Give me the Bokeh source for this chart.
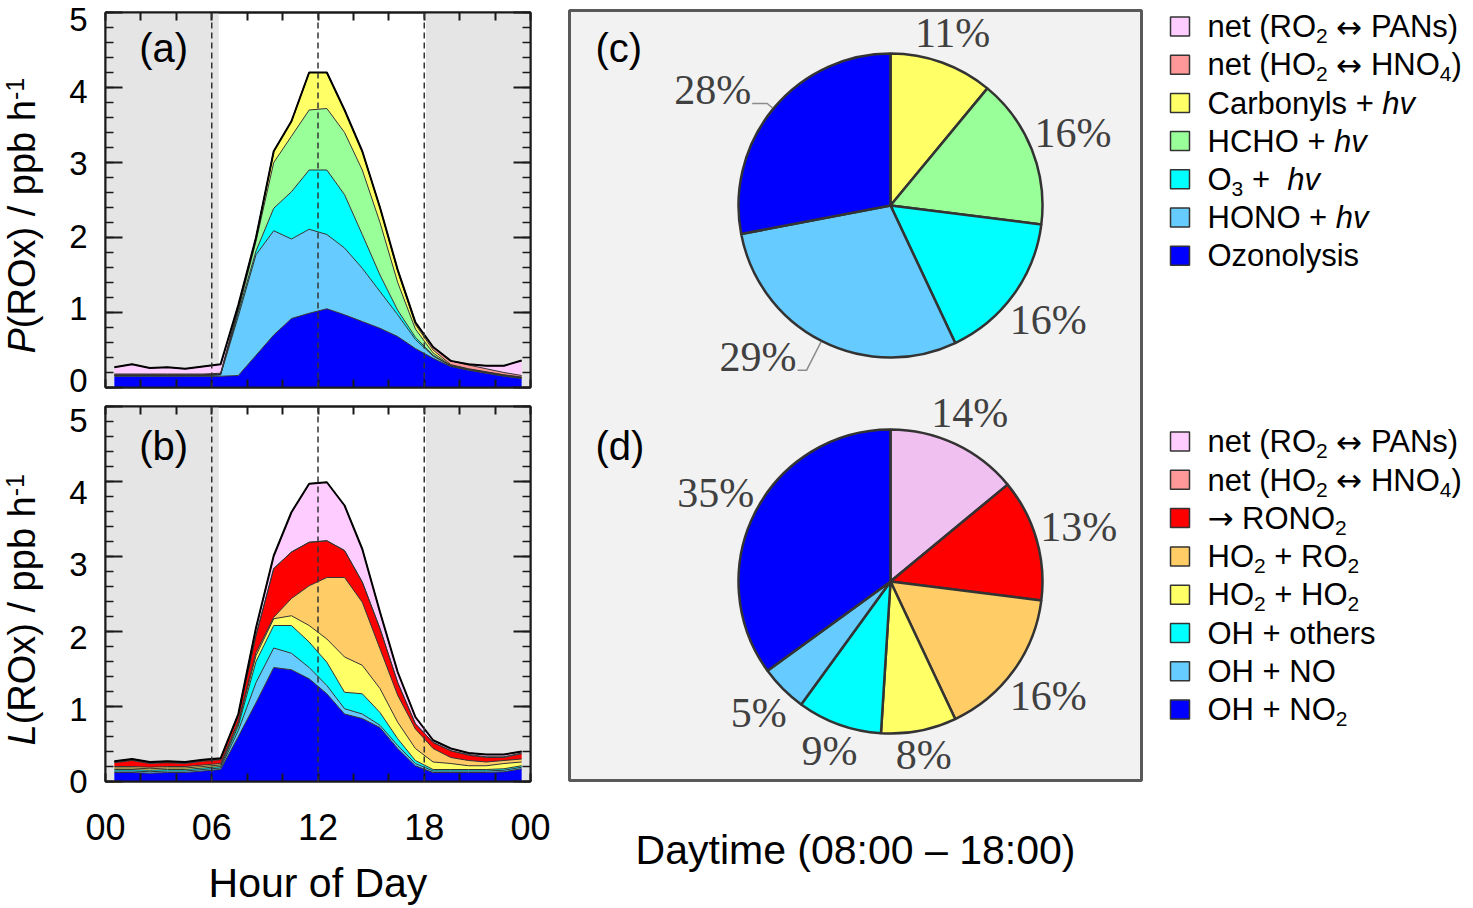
import numpy as np
from bokeh.plotting import figure
from bokeh.models import (Range1d, LinearAxis, FixedTicker, BoxAnnotation, Span,
                          Label, ColumnDataSource)
from bokeh.layouts import row, column
from bokeh.embed import file_html
from bokeh.resources import INLINE
from bokeh.core.properties import value

# ----------------------------------------------------------------- data
hours = [0.5, 1.5, 2.5, 3.5, 4.5, 5.5, 6.5, 7.5, 8.5, 9.5, 10.5, 11.5,
         12.5, 13.5, 14.5, 15.5, 16.5, 17.5, 18.5, 19.5, 20.5, 21.5, 22.5, 23.5]

# (a) P(ROx) contributions, ppb h-1 (stacked bottom -> top)
p_ozonolysis = [0.15, 0.15, 0.15, 0.15, 0.15, 0.15, 0.15, 0.16, 0.43, 0.70, 0.92, 0.99,
                1.05, 0.97, 0.88, 0.79, 0.68, 0.52, 0.39, 0.28, 0.23, 0.19, 0.15, 0.12]
p_hono = [0.01, 0.01, 0.01, 0.01, 0.01, 0.01, 0.02, 0.79, 1.34, 1.39, 1.06, 1.12,
          0.99, 0.89, 0.71, 0.49, 0.29, 0.12, 0.03, 0.01, 0.01, 0.01, 0.01, 0.01]
p_o3 = [0.00, 0.00, 0.00, 0.00, 0.00, 0.00, 0.00, 0.05, 0.05, 0.30, 0.63, 0.79,
        0.86, 0.71, 0.45, 0.22, 0.06, 0.03, 0.01, 0.00, 0.00, 0.00, 0.00, 0.00]
p_hcho = [0.005, 0.005, 0.005, 0.005, 0.005, 0.005, 0.005, 0.03, 0.13, 0.61, 0.74, 0.80,
          0.82, 0.83, 0.86, 0.70, 0.37, 0.11, 0.03, 0.005, 0.005, 0.005, 0.005, 0.005]
p_carbonyls = [0.005, 0.005, 0.005, 0.005, 0.005, 0.005, 0.005, 0.03, 0.05, 0.15, 0.20, 0.50,
               0.48, 0.30, 0.25, 0.20, 0.15, 0.06, 0.04, 0.01, 0.005, 0.005, 0.005, 0.005]
p_ho2_hno4 = [0.01, 0.01, 0.01, 0.01, 0.01, 0.01, 0.01, 0.00, 0.00, 0.00, 0.00, 0.00,
              0.00, 0.00, 0.00, 0.00, 0.02, 0.03, 0.04, 0.05, 0.05, 0.04, 0.03, 0.02]
p_ro2_pans = [0.09, 0.13, 0.08, 0.09, 0.07, 0.10, 0.12, 0.04, 0.00, 0.00, 0.00, 0.00,
              0.00, 0.00, 0.00, 0.00, 0.00, 0.00, 0.00, 0.00, 0.01, 0.04, 0.09, 0.20]

# (b) L(ROx) contributions, ppb h-1 (stacked bottom -> top)
l_oh_no2 = [0.12, 0.12, 0.11, 0.12, 0.12, 0.14, 0.16, 0.60, 1.05, 1.52, 1.49, 1.37,
            1.17, 0.90, 0.84, 0.72, 0.44, 0.21, 0.12, 0.12, 0.12, 0.12, 0.13, 0.17]
l_oh_no = [0.02, 0.02, 0.02, 0.02, 0.02, 0.02, 0.02, 0.08, 0.27, 0.26, 0.22, 0.15,
           0.11, 0.07, 0.06, 0.03, 0.04, 0.03, 0.02, 0.02, 0.02, 0.02, 0.02, 0.02]
l_oh_others = [0.02, 0.02, 0.02, 0.02, 0.02, 0.02, 0.02, 0.06, 0.28, 0.30, 0.37, 0.34,
               0.31, 0.22, 0.27, 0.17, 0.09, 0.04, 0.02, 0.02, 0.02, 0.02, 0.02, 0.02]
l_ho2_ho2 = [0.02, 0.02, 0.02, 0.02, 0.02, 0.02, 0.02, 0.03, 0.08, 0.09, 0.13, 0.22,
             0.31, 0.47, 0.38, 0.32, 0.22, 0.16, 0.10, 0.08, 0.05, 0.05, 0.07, 0.05]
l_ho2_ro2 = [0.02, 0.02, 0.02, 0.02, 0.02, 0.02, 0.02, 0.03, 0.04, 0.02, 0.23, 0.53,
             0.82, 1.06, 0.84, 0.53, 0.36, 0.26, 0.18, 0.08, 0.07, 0.05, 0.04, 0.04]
l_rono2 = [0.05, 0.08, 0.05, 0.05, 0.04, 0.05, 0.05, 0.08, 0.23, 0.65, 0.62, 0.58,
           0.49, 0.36, 0.27, 0.27, 0.17, 0.07, 0.08, 0.09, 0.07, 0.06, 0.04, 0.07]
l_ho2_hno4 = [0.01, 0.01, 0.01, 0.01, 0.01, 0.01, 0.01, 0.00, 0.00, 0.00, 0.00, 0.00,
              0.00, 0.00, 0.00, 0.00, 0.00, 0.00, 0.00, 0.00, 0.01, 0.01, 0.01, 0.01]
l_ro2_pans = [0.01, 0.01, 0.01, 0.01, 0.01, 0.01, 0.01, 0.02, 0.10, 0.17, 0.53, 0.78,
              0.78, 0.60, 0.44, 0.22, 0.14, 0.09, 0.03, 0.03, 0.02, 0.03, 0.03, 0.02]

# (c) / (d) daytime shares, %
pie_c_names = ["Carbonyls + hv", "HCHO + hv", "O3 + hv", "HONO + hv", "Ozonolysis"]
pie_c_values = [11, 16, 16, 29, 28]
pie_d_names = ["net (RO2 <-> PANs)", "-> RONO2", "HO2 + RO2", "HO2 + HO2",
               "OH + others", "OH + NO", "OH + NO2"]
pie_d_values = [14, 13, 16, 8, 9, 5, 35]

x_tick_hours = [0, 6, 12, 18, 24]
x_tick_labels = ["00", "06", "12", "18", "00"]
x_minor_hours = [2, 4, 8, 10, 14, 16, 20, 22]
y_ticks = [0, 1, 2, 3, 4, 5]

# ----------------------------------------------------------------- styles
C_PINK, C_SALMON, C_YEL, C_GRN = "#FFCCFF", "#FF9999", "#FFFF66", "#99FF99"
C_CYAN, C_LBLUE, C_BLUE = "#00FFFF", "#66CCFF", "#0000FF"
C_RED, C_ORANGE, C_PIEPINK = "#FF0000", "#FFCC66", "#F0C0F0"

FONT = "Liberation Sans"
SERIF = "Liberation Serif"
ARROW_FONT = "DejaVu Sans"
MID = 0.3465              # baseline -> middle of text box, in em

OFF = 0
WT, HT = 1473 - 2 * OFF, 908 - 2 * OFF
WL, WC = 50, 505
WR = WT - WL - WC
SPLIT = 400               # screen y where panel (b) figure begins
FR_L, FR_R = 105, 530     # frame left/right (screen)
A_TOP, A_BOT = 12, 387
B_TOP, B_BOT = 406, 781


def Y(sy):
    """screen y -> data y in the pixel-unit figures"""
    return OFF + HT - sy


AW = {" ": 278, "\u00a0": 278, "(": 333, ")": 333, "+": 584, "-": 333, ":": 278, "%": 889,
      "/": 278, "\u2013": 556,
      "A": 667, "B": 667, "C": 722, "D": 722, "E": 667, "F": 611, "G": 778, "H": 722,
      "I": 278, "J": 500, "K": 667, "L": 556, "M": 833, "N": 722, "O": 778, "P": 667,
      "Q": 778, "R": 722, "S": 667, "T": 611, "U": 722, "V": 667, "W": 944, "X": 667,
      "Y": 667, "Z": 611, "a": 556, "b": 556, "c": 500, "d": 556, "e": 556, "f": 278,
      "g": 556, "h": 556, "i": 222, "j": 222, "k": 500, "l": 222, "m": 833, "n": 556,
      "o": 556, "p": 556, "q": 556, "r": 333, "s": 500, "t": 278, "u": 556, "v": 500,
      "w": 722, "x": 500, "y": 500, "z": 500}
for _d in "0123456789":
    AW[_d] = 556
ARROW_W = {"\u2194": 838, "\u2192": 838}
SW = {"%": 833}
for _d in "0123456789":
    SW[_d] = 500


def tw(s, size, table=AW):
    return sum(table.get(ch, 556) for ch in s) / 1000.0 * size


# ----------------------------------------------------------------- panels
def hide_labels(ax):
    ax.major_label_text_color = None
    ax.major_label_text_font_size = "1px"
    ax.major_label_standoff = 0


def panel(height, top_b, bottom_b, names, colors, series, tag, tag_y, bottom_labels,
          lab_range):
    data = dict(x=hours)
    for n, s in zip(names, series):
        data[n] = s
    src = ColumnDataSource(data)
    p = figure(width=WC, height=height, x_range=Range1d(0, 24), y_range=Range1d(0, 5),
               output_backend="svg", toolbar_location=None,
               min_border_left=FR_L - (OFF + WL), min_border_right=(OFF + WL + WC) - FR_R,
               min_border_top=top_b, min_border_bottom=bottom_b)
    p.grid.visible = False
    p.outline_line_color = "#1a1a1a"
    p.outline_line_width = 2
    p.background_fill_color = "white"
    p.border_fill_color = "white"

    for lo, hi in ((0, 6.4), (18.1, 24)):
        p.add_layout(BoxAnnotation(left=lo, right=hi, fill_color="#e5e5e5", fill_alpha=1,
                                   line_color=None, level="underlay"))

    p.varea_stack(stackers=names, x="x", color=colors, source=src)
    p.vline_stack(stackers=names, x="x", color="#333333", line_width=1, source=src)
    total = np.sum(np.array(series), axis=0)
    p.line(hours, total, line_color="black", line_width=2)

    for loc in (6, 12, 18):
        p.add_layout(Span(location=loc, dimension="height", line_color="#333333",
                          line_dash="6 4", line_width=1.5))

    yt = FixedTicker(ticks=y_ticks, minor_ticks=[round(0.2 * i, 1) for i in range(26)])
    xt = FixedTicker(ticks=x_tick_hours, minor_ticks=x_minor_hours)

    def style_axis(ax, ticker, tin, min_in, min_w):
        ax.ticker = ticker
        ax.major_tick_in = tin
        ax.major_tick_out = 0
        ax.minor_tick_in = min_in
        ax.minor_tick_out = 0
        ax.major_tick_line_width = 2
        ax.minor_tick_line_width = min_w
        ax.major_tick_line_color = "#1a1a1a"
        ax.minor_tick_line_color = "#1a1a1a"
        ax.axis_line_width = 2
        ax.axis_line_color = "#1a1a1a"

    ly = p.yaxis[0]
    style_axis(ly, yt, 17, 8, 1.5)
    hide_labels(ly)

    p.extra_y_ranges = {"lab": Range1d(*lab_range)}
    la = LinearAxis(y_range_name="lab", ticker=FixedTicker(ticks=y_ticks, minor_ticks=[]),
                    major_tick_in=0, major_tick_out=0, minor_tick_in=0, minor_tick_out=0,
                    axis_line_color=None, major_tick_line_color=None,
                    minor_tick_line_color=None)
    la.major_label_text_font = FONT
    la.major_label_text_font_size = "33px"
    la.major_label_text_color = "black"
    la.major_label_standoff = 18
    p.add_layout(la, "left")

    bx = p.xaxis[0]
    style_axis(bx, xt, 8, 8, 2)
    if bottom_labels:
        bx.major_label_overrides = {h: lab for h, lab in zip(x_tick_hours, x_tick_labels)}
        bx.major_label_text_font = FONT
        bx.major_label_text_font_size = "36px"
        bx.major_label_text_color = "black"
        bx.major_label_standoff = 32
        bx.axis_label = "Hour of Day"
        bx.axis_label_text_font = FONT
        bx.axis_label_text_font_size = "41px"
        bx.axis_label_text_font_style = "normal"
        bx.axis_label_text_color = "black"
        bx.axis_label_standoff = 17
    else:
        hide_labels(bx)

    ra = LinearAxis()
    style_axis(ra, yt, 17, 8, 1.5)
    hide_labels(ra)
    p.add_layout(ra, "right")
    ta = LinearAxis()
    style_axis(ta, xt, 8, 8, 2)
    hide_labels(ta)
    p.add_layout(ta, "above")

    p.add_layout(Label(x=1.9, y=tag_y, text=tag, text_font=FONT, text_font_size="40px",
                       text_align="left", text_baseline="middle", text_color="black"))
    return p


figA = panel(SPLIT - OFF, A_TOP - OFF, SPLIT - A_BOT,
             ["oz", "hono", "o3", "hcho", "carb", "hno4", "pans"],
             [C_BLUE, C_LBLUE, C_CYAN, C_GRN, C_YEL, C_SALMON, C_PINK],
             [p_ozonolysis, p_hono, p_o3, p_hcho, p_carbonyls, p_ho2_hno4, p_ro2_pans],
             "(a)", 4.53, False, (-0.097, 5.097))
figB = panel(HT + OFF - SPLIT, B_TOP - SPLIT, HT + OFF - B_BOT,
             ["ohno2", "ohno", "ohoth", "hoho", "horo", "rono2", "hno4", "pans"],
             [C_BLUE, C_LBLUE, C_CYAN, C_YEL, C_ORANGE, C_RED, C_SALMON, C_PINK],
             [l_oh_no2, l_oh_no, l_oh_others, l_ho2_ho2, l_ho2_ro2, l_rono2, l_ho2_hno4,
              l_ro2_pans],
             "(b)", 4.48, True, (-0.001, 5.194))


# ----------------------------------------------------------------- y titles
def pixel_fig(width, x0):
    f = figure(width=width, height=HT, x_range=Range1d(x0, x0 + width), y_range=Range1d(0, HT),
               x_axis_type=None, y_axis_type=None, min_border=0, outline_line_color=None,
               output_backend="svg", toolbar_location=None)
    f.grid.visible = False
    f.background_fill_color = "white"
    f.border_fill_color = "white"
    return f


figL = pixel_fig(WL, OFF)


def vtitle(fig, pieces, base_x, y_bottom):
    """rotated (bottom-to-top) title built from pieces (text, style, size, raise)"""
    y = Y(y_bottom)
    xs, ys, txt, sizes, styles = [], [], [], [], []
    for t, st, sz, rs in pieces:
        xs.append(base_x - rs - MID * sz)
        ys.append(y)
        txt.append(t.replace(" ", "\u00a0"))
        sizes.append(f"{sz}px")
        styles.append(st)
        y += tw(t, sz)
    fig.text(x=xs, y=ys, text=txt, angle=np.pi / 2, text_font=value(FONT),
             text_font_size=sizes, text_font_style=styles, text_align="left",
             text_baseline="middle", text_color="black")


vtitle(figL, [("P", "italic", 38, 0), ("(ROx) / ppb h", "normal", 38, 0),
              ("-1", "normal", 25, 12)], 35, 353)
vtitle(figL, [("L", "italic", 38, 0), ("(ROx) / ppb h", "normal", 38, 0),
              ("-1", "normal", 25, 12)], 35, 745)

# ----------------------------------------------------------------- pies + legends
figR = pixel_fig(WR, OFF + WL + WC)
figR.quad(left=569, right=1141, top=Y(10), bottom=Y(780), fill_color="#f2f2f2",
          line_color="#595959", line_width=3)

R = 152
PCT = 42


def pie(fig, cx, cy, values, colors, leaders):
    tot = float(sum(values))
    cum = np.concatenate([[0.0], np.cumsum(values)]) / tot
    start = np.pi / 2 - 2 * np.pi * cum[1:]
    end = np.pi / 2 - 2 * np.pi * cum[:-1]
    fig.wedge(x=cx, y=Y(cy), radius=R, start_angle=start, end_angle=end,
              fill_color=colors, line_color="#333333", line_width=2.5)
    xs, ys, txts, aligns = [], [], [], []
    for i, v in enumerate(values):
        th = np.pi * (cum[i] + cum[i + 1])
        s, c = np.sin(th), np.cos(th)
        t = f"{v}%"
        if i in leaders:
            l1, l2 = leaders[i]
            ex, ey = cx + (R + 1) * s, cy - (R + 1) * c
            bx_, by_ = cx + (R + 1 + l1) * s, cy - (R + 1 + l1) * c
            fx = bx_ - l2
            fig.line([ex, bx_, fx], [Y(ey), Y(by_), Y(by_)], line_color="#8c8c8c",
                     line_width=1.5)
            xs.append(fx - 1)
            ys.append(Y(by_ + 1 - MID * PCT))
            aligns.append("right")
        else:
            w = tw(t, PCT, SW) * 0.92
            h = 0.68 * PCT
            ext = abs(w / 2 * s) + abs(h / 2 * c)
            rr = R + 6 + ext
            lx, lyc = cx + rr * s, cy - rr * c
            xs.append(lx)
            ys.append(Y(lyc))
            aligns.append("center")
        txts.append(t)
    fig.text(x=xs, y=ys, text=txts, text_align=aligns, text_baseline="middle",
             text_font=value(SERIF), text_font_size=f"{PCT}px", text_color="#404040")


pie(figR, 890, 205, pie_c_values, [C_YEL, C_GRN, C_CYAN, C_LBLUE, C_BLUE],
    {3: (32, 9), 4: (7, 15)})
pie(figR, 890, 581, pie_d_values,
    [C_PIEPINK, C_RED, C_ORANGE, C_YEL, C_CYAN, C_LBLUE, C_BLUE], {})

figR.text(x=[595, 595], y=[Y(47), Y(445)], text=["(c)", "(d)"], text_font=value(FONT),
          text_font_size="40px", text_align="left", text_baseline="middle",
          text_color="black")
figR.text(x=[855], y=[Y(849)], text=["Daytime\u00a0(08:00\u00a0\u2013\u00a018:00)"],
          text_font=value(FONT), text_font_size="41px", text_align="center",
          text_baseline="middle", text_color="black")

# legends
N, SUB, IT, ARW = "normal", "sub", "italic", "arrow"
leg1 = [
    ([("net (RO", N), ("2", SUB), (" ", N), ("\u2194", ARW), (" PANs)", N)], C_PINK),
    ([("net (HO", N), ("2", SUB), (" ", N), ("\u2194", ARW), (" HNO", N), ("4", SUB),
      (")", N)], C_SALMON),
    ([("Carbonyls + ", N), ("hv", IT)], C_YEL),
    ([("HCHO + ", N), ("hv", IT)], C_GRN),
    ([("O", N), ("3", SUB), (" +  ", N), ("hv", IT)], C_CYAN),
    ([("HONO + ", N), ("hv", IT)], C_LBLUE),
    ([("Ozonolysis", N)], C_BLUE),
]
leg2 = [
    ([("net (RO", N), ("2", SUB), (" ", N), ("\u2194", ARW), (" PANs)", N)], C_PINK),
    ([("net (HO", N), ("2", SUB), (" ", N), ("\u2194", ARW), (" HNO", N), ("4", SUB),
      (")", N)], C_SALMON),
    ([("\u2192", ARW), (" RONO", N), ("2", SUB)], C_RED),
    ([("HO", N), ("2", SUB), (" + RO", N), ("2", SUB)], C_ORANGE),
    ([("HO", N), ("2", SUB), (" + HO", N), ("2", SUB)], C_YEL),
    ([("OH + others", N)], C_CYAN),
    ([("OH + NO", N)], C_LBLUE),
    ([("OH + NO", N), ("2", SUB)], C_BLUE),
]

LFS, LSUB, LSHIFT = 31, 21, 6


def legend(fig, items, base0, step):
    sx, sy, scol = [], [], []
    tx, ty, tt, tsz, tst, tfont = [], [], [], [], [], []
    for k, (pieces, col) in enumerate(items):
        base = base0 + step * k
        sx.append(1179.5)
        sy.append(Y(base - 11))
        scol.append(col)
        x = 1207
        for t, kind in pieces:
            shown = t.replace(" ", "\u00a0")
            if kind == SUB:
                size, yb, style, font, adv = LSUB, base + LSHIFT, "normal", FONT, tw(t, LSUB)
            elif kind == ARW:
                size, yb, style, font, adv = LFS, base, "normal", ARROW_FONT, tw(t, LFS, ARROW_W)
            else:
                size, yb, style, font, adv = LFS, base, kind, FONT, tw(t, LFS)
            tx.append(x); ty.append(Y(yb - MID * size)); tt.append(shown)
            tsz.append(f"{size}px"); tst.append(style); tfont.append(font)
            x += adv
    fig.rect(x=sx, y=sy, width=19, height=19, fill_color=scol, line_color="#333333",
             line_width=1.5)
    fig.text(x=tx, y=ty, text=tt, text_font=tfont, text_font_size=tsz,
             text_font_style=tst, text_align="left", text_baseline="middle",
             text_color="black")


legend(figR, leg1, 37, 38.2)
legend(figR, leg2, 452, 38.3)

layout = row(figL, column(figA, figB), figR)
open("out.html", "w").write(file_html(layout, INLINE))
